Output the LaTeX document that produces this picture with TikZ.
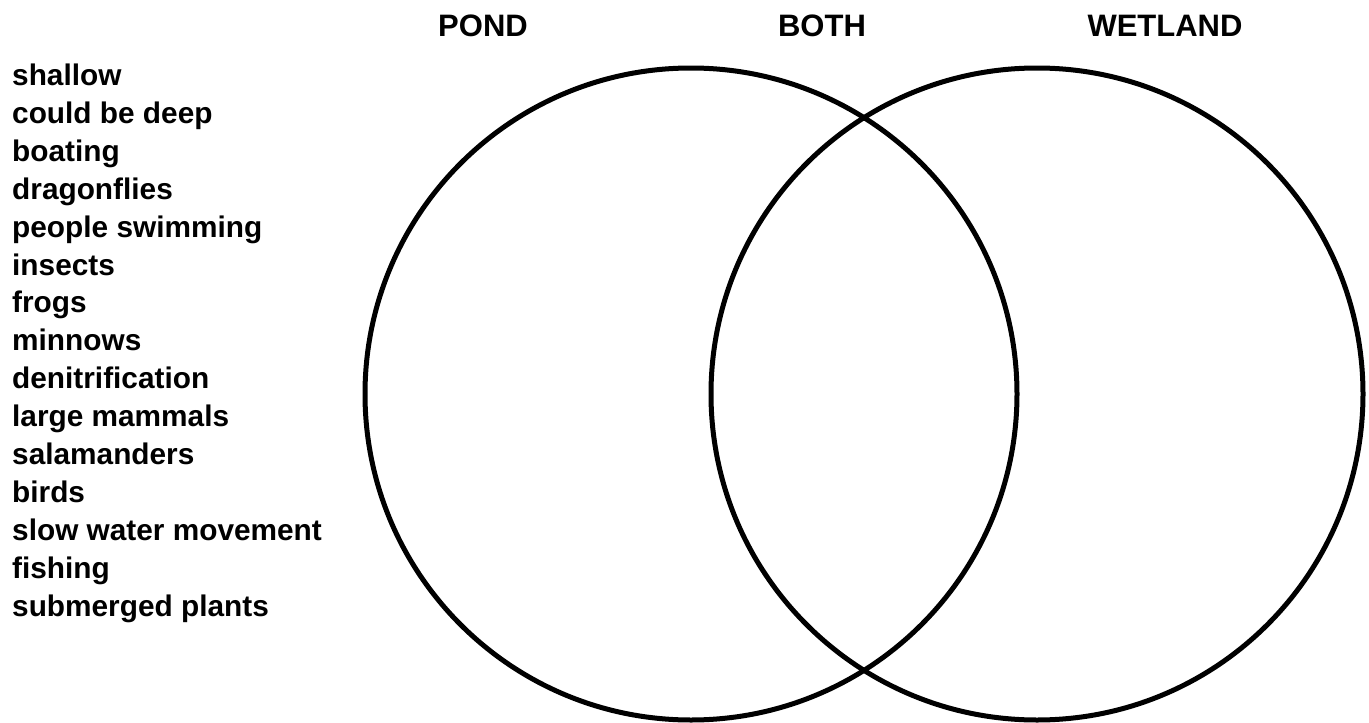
\documentclass[tikz,border=0pt]{standalone}
\usepackage{fontspec}
\setmainfont{Liberation Sans}
\begin{document}
\begin{tikzpicture}[x=1pt,y=-1pt,
  ring/.style={draw=black,line width=5pt,circle,minimum size=652pt,inner sep=0pt},
  title/.style={font=\fontsize{31}{31}\selectfont\bfseries,anchor=base},
  item/.style={font=\fontsize{29.8}{30}\selectfont\bfseries,anchor=base west,inner sep=0pt}]
\useasboundingbox (0,0) rectangle (1369,723);
\node[ring] (pond) at (691,394) {};
\node[ring] (wet) at (1037,394) {};
\node[title] (tpond) at (483,36) {POND};
\node[title] (tboth) at (822,36) {BOTH};
\node[title] (twet) at (1165,36) {WETLAND};
\foreach \t [count=\i] in {shallow,could be deep,boating,dragonflies,people swimming,insects,frogs,minnows,denitrification,large mammals,salamanders,birds,slow water movement,fishing,submerged plants}
  \node[item] (it\i) at (12,{85.5+(\i-1)*37.9}) {\t};
\end{tikzpicture}
\end{document}
